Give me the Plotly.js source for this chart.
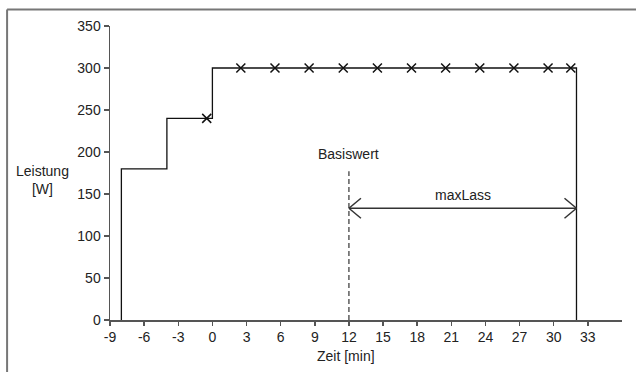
<!DOCTYPE html>
<html>
<head>
<meta charset="utf-8">
<script src="https://cdn.plot.ly/plotly-3.0.1.min.js"></script>
<style>html,body{margin:0;padding:0;background:#fff}#chart{width:636px;height:372px}</style>
</head>
<body>
<div id="chart"></div>
<script>
// Data
const stepX = [-8, -8, -4, -4, 0, 0, 32, 32];
const stepY = [0, 180, 180, 240, 240, 300, 300, 0];
const markX = [-0.5, 2.5, 5.5, 8.5, 11.5, 14.5, 17.5, 20.5, 23.5, 26.5, 29.5, 31.5];
const markY = [240, 300, 300, 300, 300, 300, 300, 300, 300, 300, 300, 300];
const basisX = 12;
const basisTop = 177;
const lassStart = 12;
const lassEnd = 32;
const lassY = 133;
const xTicks = [-9, -6, -3, 0, 3, 6, 9, 12, 15, 18, 21, 24, 27, 30, 33];
const yTicks = [0, 50, 100, 150, 200, 250, 300, 350];
const xTitle = 'Zeit [min]';
const yTitle = 'Leistung<br>[W]';
const basisLabel = 'Basiswert';
const lassLabel = 'maxLass';

const font = {family: 'Liberation Sans, Arial, sans-serif', size: 14, color: '#222'};

const traces = [
  {x: stepX, y: stepY, mode: 'lines', line: {color: '#111', width: 1.3}, hoverinfo: 'skip'},
  {x: markX, y: markY, mode: 'markers', marker: {symbol: 'x-thin-open', size: 9, color: '#111', line: {color: '#111', width: 1.5}}, hoverinfo: 'skip'},
  {x: [basisX, basisX], y: [0, basisTop], mode: 'lines', line: {color: '#333', width: 1.2, dash: '5px,3px'}, hoverinfo: 'skip'},
  {x: [lassStart, lassEnd], y: [lassY, lassY], mode: 'lines', line: {color: '#333', width: 1.5}, hoverinfo: 'skip'}
];

function chev(xa, dir) {
  const l = {color: '#333', width: 1.5};
  return [
    {type: 'line', xref: 'x', yref: 'y', xsizemode: 'pixel', ysizemode: 'pixel', xanchor: xa, yanchor: lassY, x0: 0, y0: 0, x1: 12 * dir, y1: 10, line: l},
    {type: 'line', xref: 'x', yref: 'y', xsizemode: 'pixel', ysizemode: 'pixel', xanchor: xa, yanchor: lassY, x0: 0, y0: 0, x1: 12 * dir, y1: -10, line: l}
  ];
}

const shapes = [
  {type: 'line', xref: 'paper', yref: 'paper', x0: -0.201, x1: 1.03, y0: 1.056, y1: 1.056, line: {color: '#777', width: 2}},
  {type: 'line', xref: 'paper', yref: 'paper', x0: -0.201, x1: -0.201, y0: 1.056, y1: -0.2, line: {color: '#777', width: 2}}
].concat(chev(lassStart, 1), chev(lassEnd, -1));

const layout = {
  width: 636, height: 372,
  margin: {l: 110, r: 14, t: 26, b: 52},
  paper_bgcolor: '#fff', plot_bgcolor: '#fff',
  showlegend: false,
  font: font,
  xaxis: {
    range: [-9, 36], tickvals: xTicks, ticktext: xTicks.map(String),
    showgrid: false, zeroline: false, showline: true, linecolor: '#555', linewidth: 1.5,
    ticks: 'outside', ticklen: 4, tickcolor: '#555', tickwidth: 1.5, tickfont: font
  },
  yaxis: {
    range: [0, 350], tickvals: yTicks, ticktext: yTicks.map(String),
    showgrid: false, zeroline: false, showline: true, linecolor: '#555', linewidth: 1.5,
    ticks: 'outside', ticklen: 5, tickcolor: '#555', tickwidth: 1.5, tickfont: font
  },
  shapes: shapes,
  annotations: [
    {text: xTitle, xref: 'paper', yref: 'paper', x: (346 - 110) / 512, y: -(356 - 320) / 294, showarrow: false, font: font, xanchor: 'center', yanchor: 'middle'},
    {text: yTitle, xref: 'paper', yref: 'paper', x: (42 - 110) / 512, y: (320 - 180) / 294, showarrow: false, font: font, xanchor: 'center', yanchor: 'middle'},
    {text: basisLabel, xref: 'x', yref: 'y', x: basisX, y: basisTop, yshift: 7, showarrow: false, font: font, xanchor: 'center', yanchor: 'bottom'},
    {text: lassLabel, xref: 'x', yref: 'y', x: (lassStart + lassEnd) / 2, y: lassY, yshift: 3, showarrow: false, font: font, xanchor: 'center', yanchor: 'bottom'}
  ]
};

Plotly.newPlot('chart', traces, layout, {staticPlot: true, displayModeBar: false});
</script>
</body>
</html>
